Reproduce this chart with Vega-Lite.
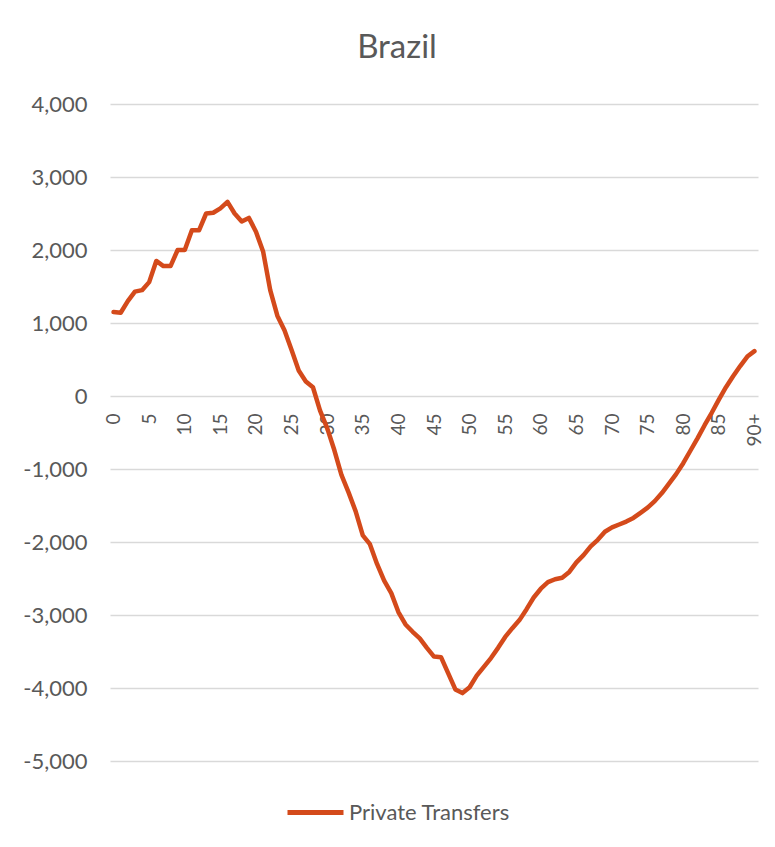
{
  "$schema": "https://vega.github.io/schema/vega-lite/v6.json",
  "width": 648,
  "height": 657,
  "autosize": {"type": "none"},
  "padding": {"left": 110, "top": 104, "right": 17, "bottom": 86},
  "background": "white",
  "config": {
    "view": {"stroke": null},
    "font": "Lato",
    "axis": {"labelFont": "Lato", "labelColor": "#595959"}
  },
  "title": {
    "text": "Brazil",
    "font": "Lato",
    "fontSize": 33,
    "fontWeight": "normal",
    "color": "#595959",
    "anchor": "middle",
    "dx": -37,
    "offset": 28
  },
  "data": {
    "values": [
      {"age": "0", "value": 1150}, {"age": "1", "value": 1140}, {"age": "2", "value": 1300}, {"age": "3", "value": 1430}, {"age": "4", "value": 1450},
      {"age": "5", "value": 1560}, {"age": "6", "value": 1850}, {"age": "7", "value": 1780}, {"age": "8", "value": 1780}, {"age": "9", "value": 2000},
      {"age": "10", "value": 2000}, {"age": "11", "value": 2270}, {"age": "12", "value": 2270}, {"age": "13", "value": 2500}, {"age": "14", "value": 2510},
      {"age": "15", "value": 2570}, {"age": "16", "value": 2660}, {"age": "17", "value": 2500}, {"age": "18", "value": 2390}, {"age": "19", "value": 2440},
      {"age": "20", "value": 2250}, {"age": "21", "value": 1980}, {"age": "22", "value": 1450}, {"age": "23", "value": 1100}, {"age": "24", "value": 900},
      {"age": "25", "value": 630}, {"age": "26", "value": 350}, {"age": "27", "value": 200}, {"age": "28", "value": 120}, {"age": "29", "value": -200},
      {"age": "30", "value": -440}, {"age": "31", "value": -740}, {"age": "32", "value": -1080}, {"age": "33", "value": -1320}, {"age": "34", "value": -1580},
      {"age": "35", "value": -1910}, {"age": "36", "value": -2030}, {"age": "37", "value": -2300}, {"age": "38", "value": -2530}, {"age": "39", "value": -2700},
      {"age": "40", "value": -2960}, {"age": "41", "value": -3130}, {"age": "42", "value": -3230}, {"age": "43", "value": -3320}, {"age": "44", "value": -3450},
      {"age": "45", "value": -3570}, {"age": "46", "value": -3580}, {"age": "47", "value": -3800}, {"age": "48", "value": -4020}, {"age": "49", "value": -4070},
      {"age": "50", "value": -3990}, {"age": "51", "value": -3830}, {"age": "52", "value": -3710}, {"age": "53", "value": -3590}, {"age": "54", "value": -3450},
      {"age": "55", "value": -3300}, {"age": "56", "value": -3180}, {"age": "57", "value": -3070}, {"age": "58", "value": -2920}, {"age": "59", "value": -2760},
      {"age": "60", "value": -2640}, {"age": "61", "value": -2550}, {"age": "62", "value": -2510}, {"age": "63", "value": -2490}, {"age": "64", "value": -2410},
      {"age": "65", "value": -2280}, {"age": "66", "value": -2180}, {"age": "67", "value": -2060}, {"age": "68", "value": -1970}, {"age": "69", "value": -1860},
      {"age": "70", "value": -1800}, {"age": "71", "value": -1760}, {"age": "72", "value": -1720}, {"age": "73", "value": -1670}, {"age": "74", "value": -1600},
      {"age": "75", "value": -1530}, {"age": "76", "value": -1440}, {"age": "77", "value": -1330}, {"age": "78", "value": -1200}, {"age": "79", "value": -1070},
      {"age": "80", "value": -920}, {"age": "81", "value": -750}, {"age": "82", "value": -580}, {"age": "83", "value": -400}, {"age": "84", "value": -230},
      {"age": "85", "value": -50}, {"age": "86", "value": 120}, {"age": "87", "value": 270}, {"age": "88", "value": 410}, {"age": "89", "value": 540},
      {"age": "90+", "value": 615}
    ]
  },
  "mark": {"type": "line", "strokeWidth": 4.5, "strokeCap": "round", "strokeJoin": "round"},
  "encoding": {
    "x": {
      "field": "age",
      "type": "ordinal",
      "sort": null,
      "scale": {"type": "point", "padding": 0.5},
      "axis": {
        "title": null,
        "values": ["0", "5", "10", "15", "20", "25", "30", "35", "40", "45", "50", "55", "60", "65", "70", "75", "80", "85", "90+"],
        "labelAngle": -90,
        "labelPadding": 17,
        "offset": -365,
        "domain": false,
        "ticks": false,
        "grid": false,
        "labelFontSize": 19
      }
    },
    "y": {
      "field": "value",
      "type": "quantitative",
      "scale": {"domain": [-5000, 4000], "nice": false},
      "axis": {
        "title": null,
        "values": [-5000, -4000, -3000, -2000, -1000, 0, 1000, 2000, 3000, 4000],
        "labelExpr": "replace(format(datum.value, ',.0f'), '\u2212', '-')",
        "domain": false,
        "ticks": false,
        "grid": true,
        "gridColor": "#D9D9D9",
        "gridWidth": 1.3,
        "labelPadding": 23,
        "labelFontSize": 22
      }
    },
    "color": {
      "datum": "Private Transfers",
      "scale": {"range": ["#D44A1B"]},
      "legend": {
        "title": null,
        "orient": "none",
        "legendX": 175,
        "legendY": 678,
        "symbolType": "stroke",
        "symbolStrokeWidth": 5,
        "symbolSize": 3136,
        "labelFont": "Lato",
        "labelFontSize": 22,
        "labelColor": "#595959",
        "labelOffset": 3,
        "labelLimit": 400
      }
    }
  }
}
